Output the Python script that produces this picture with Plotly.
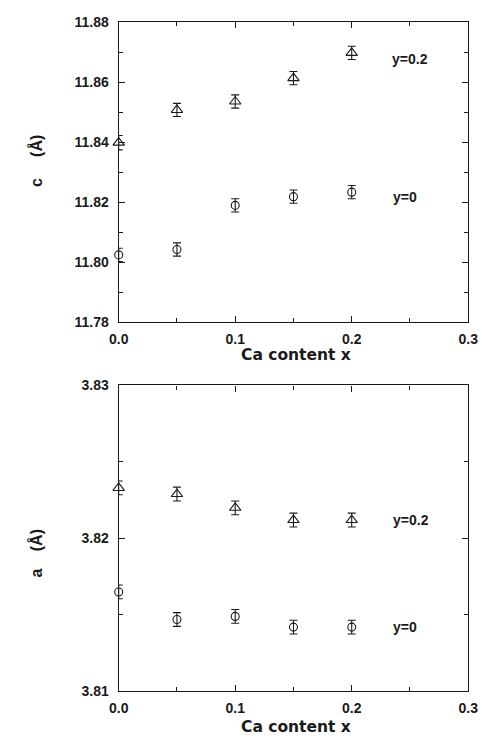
import plotly.graph_objects as go

# Ca content x
ca_x = [0.0, 0.05, 0.10, 0.15, 0.20]

# lattice parameter c (Å)
c_y02 = [11.8398, 11.8507, 11.8535, 11.8613, 11.8697]
c_y02_err = [0.0024, 0.0022, 0.0022, 0.0022, 0.0022]
c_y0 = [11.8024, 11.8042, 11.8189, 11.8218, 11.8233]
c_y0_err = [0.0022, 0.0022, 0.0022, 0.0022, 0.0022]

# lattice parameter a (Å)
a_y02 = [3.8233, 3.8229, 3.8220, 3.8212, 3.8212]
a_y02_err = [0.00045, 0.00045, 0.00045, 0.00045, 0.00045]
a_y0 = [3.8165, 3.8147, 3.8149, 3.8142, 3.8142]
a_y0_err = [0.00045, 0.00045, 0.00045, 0.00045, 0.00045]

x_ticks = [0.0, 0.1, 0.2, 0.3]
x_ticktext = ["0.0", "0.1", "0.2", "0.3"]
c_ticks = [11.78, 11.80, 11.82, 11.84, 11.86, 11.88]
a_ticks = [3.81, 3.82, 3.83]

W, H = 491, 748
FONT = "Liberation Sans, Arial, sans-serif"
WIDE = "DejaVu Sans, sans-serif"
INK = "#1a1a1a"

fig = go.Figure()


def add_series(x, y, err, symbol, size, xa, ya):
    fig.add_trace(go.Scatter(
        x=x, y=y, mode="markers", xaxis=xa, yaxis=ya, showlegend=False,
        cliponaxis=False,
        marker=dict(symbol=symbol, size=size, color=INK,
                    line=dict(color=INK, width=1.1)),
        error_y=dict(type="data", array=err, color=INK, thickness=1.1, width=4),
    ))


add_series(ca_x, c_y02, c_y02_err, "triangle-up-open", 10, "x", "y")
add_series(ca_x, c_y0, c_y0_err, "circle-open", 8, "x", "y")
add_series(ca_x, a_y02, a_y02_err, "triangle-up-open", 10, "x2", "y2")
add_series(ca_x, a_y0, a_y0_err, "circle-open", 8, "x2", "y2")

xdom = [113.3 / W, 477.7 / W]
top_dom = [1 - 321 / H, 1 - 14.3 / H]
bot_dom = [1 - 698.3 / H, 1 - 385.7 / H]

axis_common = dict(
    showline=True, linecolor=INK, linewidth=1.3, mirror="ticks",
    ticks="inside", ticklen=6, tickwidth=1, tickcolor=INK,
    showgrid=False, zeroline=False,
    tickfont=dict(family=FONT, size=14, color=INK, weight="bold"),
)

xaxis_cfg = dict(axis_common, range=[0, 0.3], tickvals=x_ticks, ticktext=x_ticktext,
                 minor=dict(dtick=0.05, tick0=0, ticks="inside", ticklen=4,
                            tickcolor=INK, showgrid=False),
                 domain=xdom, ticklabelstandoff=4)

fig.update_layout(
    width=W, height=H,
    margin=dict(l=0, r=0, t=0, b=0),
    paper_bgcolor="white", plot_bgcolor="white",
    xaxis=dict(xaxis_cfg, anchor="y"),
    yaxis=dict(axis_common, range=[11.78, 11.88], tickvals=c_ticks,
               tickformat=".2f", domain=top_dom, anchor="x",
               minor=dict(dtick=0.01, tick0=11.78, ticks="inside", ticklen=4,
                          tickcolor=INK, showgrid=False),
               ticklabelstandoff=6),
    xaxis2=dict(xaxis_cfg, anchor="y2"),
    yaxis2=dict(axis_common, range=[3.81, 3.83], tickvals=a_ticks,
                tickformat=".2f", domain=bot_dom, anchor="x2",
                minor=dict(dtick=0.005, tick0=3.81, ticks="inside", ticklen=4,
                           tickcolor=INK, showgrid=False),
                ticklabelstandoff=6),
)

xtitle_font = dict(family=WIDE, size=15.5, color=INK, weight="bold")
ytitle_font = dict(family=FONT, size=16, color=INK, weight="bold")
label_font = dict(family=FONT, size=14, color=INK, weight="bold")


def paper_text(text, px, py, font, angle=0):
    return dict(text=text, x=px / W, y=1 - py / H, xref="paper", yref="paper",
                showarrow=False, font=font, textangle=angle,
                xanchor="center", yanchor="middle")


annotations = [
    # x-axis titles
    paper_text("Ca content x", 298, 355, xtitle_font),
    paper_text("Ca content x", 298, 735, xtitle_font),
    # y-axis titles (symbol and unit set apart)
    paper_text("c", 27, 178, ytitle_font, -90),
    paper_text("(Å)", 27, 141, ytitle_font, -90),
    paper_text("a", 28, 577, ytitle_font, -90),
    paper_text("(Å)", 28, 544, ytitle_font, -90),
    # series labels
    dict(text="y=0.2", x=0.250, y=11.8677, xref="x", yref="y", showarrow=False,
         font=label_font),
    dict(text="y=0", x=0.246, y=11.8218, xref="x", yref="y", showarrow=False,
         font=label_font),
    dict(text="y=0.2", x=0.251, y=3.8212, xref="x2", yref="y2", showarrow=False,
         font=label_font),
    dict(text="y=0", x=0.246, y=3.8142, xref="x2", yref="y2", showarrow=False,
         font=label_font),
]
fig.update_layout(annotations=annotations)

fig.write_html("out.html")
